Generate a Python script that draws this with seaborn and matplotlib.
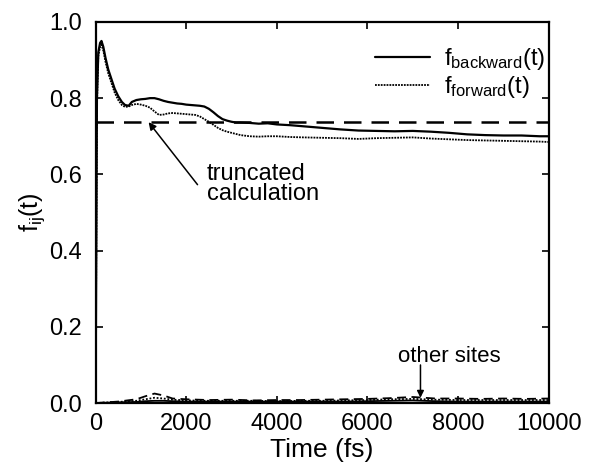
import numpy as np
import pandas as pd
import matplotlib
matplotlib.use("Agg")
import matplotlib.pyplot as plt
import seaborn as sns

# ---- data ----
t_main = [0, 30, 60, 100, 130, 170, 220, 280, 350, 420, 500, 580, 650, 730, 800,
          900, 1000, 1100, 1200, 1300, 1400, 1500, 1600, 1700, 1800, 1900, 2000,
          2100, 2200, 2300, 2400, 2500, 2600, 2700, 2800, 2900, 3000, 3100, 3200,
          3400, 3600, 3800, 4000, 4300, 4600, 5000, 5400, 5800, 6200, 6600, 7000,
          7400, 7800, 8200, 8600, 9000, 9400, 9800, 10000]
f_backward = [0.00, 0.80, 0.92, 0.945, 0.950, 0.935, 0.905, 0.875, 0.850, 0.825, 0.805, 0.790, 0.782, 0.780, 0.790,
              0.795, 0.797, 0.798, 0.800, 0.800, 0.797, 0.793, 0.790, 0.788, 0.786, 0.785, 0.783,
              0.782, 0.781, 0.780, 0.778, 0.772, 0.763, 0.753, 0.745, 0.741, 0.738, 0.736, 0.736,
              0.735, 0.733, 0.734, 0.731, 0.729, 0.726, 0.722, 0.718, 0.715, 0.714, 0.713, 0.714,
              0.712, 0.709, 0.705, 0.703, 0.702, 0.702, 0.700, 0.700]
f_forward = [0.00, 0.78, 0.91, 0.935, 0.940, 0.925, 0.895, 0.865, 0.840, 0.815, 0.795, 0.782, 0.777, 0.778, 0.782,
             0.785, 0.783, 0.780, 0.775, 0.765, 0.756, 0.757, 0.760, 0.761, 0.760, 0.759, 0.758,
             0.757, 0.756, 0.752, 0.745, 0.738, 0.730, 0.722, 0.716, 0.712, 0.709, 0.706, 0.703,
             0.700, 0.699, 0.700, 0.700, 0.698, 0.697, 0.696, 0.695, 0.693, 0.695, 0.696, 0.697,
             0.694, 0.692, 0.690, 0.689, 0.688, 0.687, 0.686, 0.685]
f_truncated = 0.737

t_other = [0, 500, 900, 1100, 1300, 1500, 1700, 2000, 2500, 3000, 3500, 4000, 4500, 5000,
           5500, 6000, 6500, 7000, 7500, 8000, 8500, 9000, 9500, 10000]
f_other1 = [0.000, 0.004, 0.010, 0.018, 0.025, 0.020, 0.012, 0.010, 0.008, 0.009, 0.007, 0.008, 0.008, 0.009,
            0.010, 0.011, 0.013, 0.016, 0.012, 0.012, 0.011, 0.012, 0.011, 0.012]
f_other2 = [0.000, 0.003, 0.006, 0.010, 0.014, 0.012, 0.009, 0.007, 0.006, 0.006, 0.006, 0.005, 0.006, 0.006,
            0.007, 0.008, 0.010, 0.011, 0.009, 0.008, 0.008, 0.008, 0.008, 0.008]
f_other3 = [0.000, 0.002, 0.003, 0.005, 0.006, 0.006, 0.005, 0.004, 0.004, 0.004, 0.004, 0.004, 0.004, 0.004,
            0.004, 0.005, 0.006, 0.007, 0.005, 0.004, 0.004, 0.004, 0.004, 0.004]

x_ticks = [0, 2000, 4000, 6000, 8000, 10000]
y_ticks = [0.0, 0.2, 0.4, 0.6, 0.8, 1.0]

# ---- style ----
sns.set_theme(style="ticks")
plt.rcParams['font.family'] = ['Liberation Sans', 'DejaVu Sans']
plt.rcParams['mathtext.fontset'] = 'custom'
plt.rcParams['mathtext.rm'] = 'Liberation Sans'
plt.rcParams['mathtext.it'] = 'Liberation Sans'
plt.rcParams['text.color'] = 'black'
plt.rcParams['axes.labelcolor'] = 'black'

fig = plt.figure(figsize=(5.9, 4.66), dpi=100)
ax = fig.add_axes([0.162, 0.135, 0.768, 0.818])

df_b = pd.DataFrame({"t": t_main, "f": f_backward})
df_f = pd.DataFrame({"t": t_main, "f": f_forward})
sns.lineplot(data=df_b, x="t", y="f", ax=ax, color="black", lw=1.6,
             label=r"f$_{\mathrm{backward}}$(t)")
sns.lineplot(data=df_f, x="t", y="f", ax=ax, color="black", lw=1.3,
             linestyle=(0, (1, 0.6)), label=r"f$_{\mathrm{forward}}$(t)")
ax.axhline(f_truncated, color="black", lw=1.8, dashes=(7, 4))

for vals, ls in [(f_other1, (0, (5, 3))), (f_other2, (0, (1, 1))), (f_other3, "-")]:
    sns.lineplot(x=t_other, y=vals, ax=ax, color="black", lw=1.3, linestyle=ls, legend=False)

ax.set_xlim(0, 10000)
ax.set_ylim(0, 1.0)
ax.set_xticks(x_ticks)
ax.set_xticklabels([str(v) for v in x_ticks])
ax.set_yticks(y_ticks)
ax.set_yticklabels([f"{v:.1f}" for v in y_ticks])
ax.tick_params(direction="in", top=True, right=True, length=5, width=1.2,
               labelsize=17, colors="black")
ax.tick_params(axis="y", pad=10)
ax.tick_params(axis="x", pad=7)
for s in ax.spines.values():
    s.set_linewidth(1.6)
    s.set_color("black")

ax.set_xlabel("Time (fs)", fontsize=19, labelpad=2)
ax.set_ylabel(r"f$_{\mathrm{ij}}$(t)", fontsize=18, labelpad=1)

leg = ax.legend(loc="upper right", frameon=False, fontsize=17, handlelength=2.3,
                handletextpad=0.6, borderaxespad=0.3, labelspacing=0.1,
                bbox_to_anchor=(1.028, 0.98))
for txt in leg.get_texts():
    txt.set_color("black")

ax.annotate("", xy=(1170, 0.737), xytext=(2250, 0.573),
            arrowprops=dict(arrowstyle="-|>", color="black", lw=1.1,
                            mutation_scale=11, shrinkA=0, shrinkB=0))
ax.text(2450, 0.575, "truncated\ncalculation", fontsize=17, ha="left", va="center",
        linespacing=0.85)
ax.annotate("", xy=(7170, 0.014), xytext=(7170, 0.100),
            arrowprops=dict(arrowstyle="-|>", color="black", lw=1.1,
                            mutation_scale=10, shrinkA=0, shrinkB=0))
ax.text(7800, 0.122, "other sites", fontsize=16, ha="center", va="center")

fig.savefig("out.png", dpi=100)
